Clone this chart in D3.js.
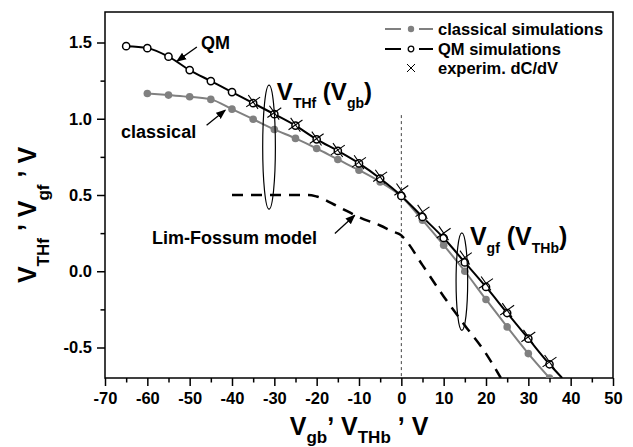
<!DOCTYPE html>
<html lang="en">
<head>
<meta charset="UTF-8"/>
<title>Threshold voltages vs back gate voltage</title>
<script src="https://d3js.org/d3.v7.min.js"></script>
<style type="text/css">
  body { margin: 0; background: #fff; }
  svg text { font-family: "Liberation Sans", Arial, sans-serif; font-weight: bold; fill: #000; }
  .tick line { stroke: #000; stroke-width: 1.5; }
  .clsLine { fill: none; stroke: #808080; stroke-width: 2; }
  .qmLine { fill: none; stroke: #000; stroke-width: 2; }
  .lfLine { fill: none; stroke: #000; stroke-width: 2.5; stroke-dasharray: 11, 8; }
  .zeroLine { stroke: #444; stroke-width: 1; stroke-dasharray: 3, 3; }
  .note { fill: none; stroke: #000; stroke-width: 1.2; }
</style>
</head>
<body>
<script>

// ---- data ----
var qmX  = [-65, -60, -55, -50, -45, -40, -35, -30, -25, -20, -15, -10, -5, 0, 5, 10, 15, 20, 25, 30, 35];
var qmY  = [1.476, 1.463, 1.407, 1.319, 1.247, 1.175, 1.102, 1.030, 0.955, 0.865, 0.789, 0.707, 0.608, 0.494, 0.356, 0.218, 0.058, -0.103, -0.274, -0.442, -0.610];
var qmLineEnd = [38, -0.70];   // the QM curve runs on to the bottom axis

var clsX = [-60, -55, -50, -45, -40, -35, -30, -25, -20, -15, -10, -5, 0, 5, 10, 15, 20, 25, 30, 35];
var clsY = [1.166, 1.155, 1.144, 1.127, 1.063, 0.997, 0.930, 0.871, 0.805, 0.733, 0.663, 0.586, 0.490, 0.335, 0.171, 0.000, -0.185, -0.365, -0.540, -0.700];

var expX = [-35, -30, -25, -20, -15, -10, -5, 0, 5, 10, 15, 20, 25, 30, 35];
var expY = [1.110, 1.040, 0.960, 0.870, 0.795, 0.715, 0.620, 0.530, 0.390, 0.250, 0.090, -0.080, -0.255, -0.430, -0.595];

var lfX = [-40, -30, -22, -20, -15, -10, -5, -2, 0, 1, 5, 10, 15, 20, 23.5];
var lfY = [0.50, 0.50, 0.50, 0.49, 0.425, 0.355, 0.30, 0.26, 0.235, 0.205, 0.04, -0.165, -0.355, -0.54, -0.70];

var xTicks = [-70, -60, -50, -40, -30, -20, -10, 0, 10, 20, 30, 40, 50];
var xMinor = [-65, -55, -45, -35, -25, -15, -5, 5, 15, 25, 35, 45];
var yTicks = [-0.5, 0.0, 0.5, 1.0, 1.5];
var yMinor = [-0.25, 0.25, 0.75, 1.25];

var legendItems = ["classical simulations", "QM simulations", "experim. dC/dV"];

function pairs(xs, ys) { return xs.map(function(v, i) { return [v, ys[i]]; }); }

// ---- layout ----
var margin = {top: 12, right: 20, bottom: 69, left: 105},
    width = 633 - margin.left - margin.right,
    height = 447 - margin.top - margin.bottom;

var x = d3.scaleLinear().domain([-70, 50]).range([0, width]);
var y = d3.scaleLinear().domain([-0.7, 1.7]).range([height, 0]);

var svg = d3.select("body").append("svg")
    .attr("width", 633)
    .attr("height", 447);

var defs = svg.append("defs");
defs.append("clipPath").attr("id", "plotClip")
  .append("rect").attr("width", width).attr("height", height);
defs.append("marker")
    .attr("id", "arrow")
    .attr("viewBox", "0 0 10 10")
    .attr("refX", 9).attr("refY", 5)
    .attr("markerWidth", 10).attr("markerHeight", 10)
    .attr("markerUnits", "userSpaceOnUse")
    .attr("orient", "auto")
  .append("path").attr("d", "M0,1 L10,5 L0,9 Z").attr("fill", "#000");

var g = svg.append("g")
    .attr("transform", "translate(" + margin.left + "," + margin.top + ")");

// axes (plain hyphen for the minus sign, as in the figure)
g.append("g")
    .attr("transform", "translate(0," + height + ")")
    .call(d3.axisBottom(x).tickValues(xTicks).tickSize(8).tickPadding(6)
      .tickFormat(function(d) { return String(d); }));
g.append("g")
    .attr("transform", "translate(0," + height + ")")
    .call(d3.axisBottom(x).tickValues(xMinor).tickSize(4.5).tickFormat(""));
g.append("g")
    .call(d3.axisLeft(y).tickValues(yTicks).tickSize(8).tickPadding(5)
      .tickFormat(function(d) { return d.toFixed(1); }));
g.append("g")
    .call(d3.axisLeft(y).tickValues(yMinor).tickSize(4.5).tickFormat(""));
g.selectAll(".domain").remove();
g.selectAll(".tick text")
    .style("font-family", "'Liberation Sans', Arial, sans-serif")
    .style("font-weight", "bold")
    .style("font-size", "16.5px");

g.append("rect")
    .attr("width", width).attr("height", height)
    .attr("fill", "none").attr("stroke", "#000").attr("stroke-width", 1.5);

// dotted zero line
g.append("line")
    .attr("class", "zeroLine")
    .attr("x1", x(0)).attr("x2", x(0))
    .attr("y1", y(1.024)).attr("y2", y(-0.7));

var plot = g.append("g").attr("clip-path", "url(#plotClip)");

var line = d3.line()
    .x(function(d) { return x(d[0]); })
    .y(function(d) { return y(d[1]); })
    .curve(d3.curveMonotoneX);

var lfData = pairs(lfX, lfY);
var clsData = pairs(clsX, clsY);
var qmData = pairs(qmX, qmY);
var expData = pairs(expX, expY);

plot.append("path").datum(lfData).attr("class", "lfLine").attr("d", line);
plot.append("path").datum(clsData).attr("class", "clsLine").attr("d", line);
plot.append("path").datum(qmData.concat([qmLineEnd])).attr("class", "qmLine").attr("d", line);

plot.selectAll(".clsDot").data(clsData).enter().append("circle")
    .attr("cx", function(d) { return x(d[0]); })
    .attr("cy", function(d) { return y(d[1]); })
    .attr("r", 3.8).attr("fill", "#808080");

var crossPath = function(s) {
  return "M" + (-s) + "," + (-s) + "L" + s + "," + s + "M" + (-s) + "," + s + "L" + s + "," + (-s);
};

plot.selectAll(".qmDot").data(qmData).enter().append("circle")
    .attr("cx", function(d) { return x(d[0]); })
    .attr("cy", function(d) { return y(d[1]); })
    .attr("r", 3.6).attr("fill", "#fff").attr("stroke", "#000").attr("stroke-width", 1.5);

plot.selectAll(".expMark").data(expData).enter().append("path")
    .attr("transform", function(d) { return "translate(" + x(d[0]) + "," + y(d[1]) + ") rotate(10)"; })
    .attr("d", crossPath(6))
    .attr("fill", "none").attr("stroke", "#000").attr("stroke-width", 1.1);

// ---- annotations ----
function ellipse(cx, cy, rx, ry) {
  g.append("ellipse")
      .attr("class", "note")
      .attr("cx", x(cx)).attr("cy", y(cy))
      .attr("rx", x(cx + rx) - x(cx)).attr("ry", y(cy) - y(cy + ry));
}
ellipse(-31.25, 0.814, 1.5, 0.407);
ellipse(14.3, -0.068, 1.37, 0.32);

function arrow(x1, y1, x2, y2) {
  g.append("line")
      .attr("x1", x(x1)).attr("y1", y(y1))
      .attr("x2", x(x2)).attr("y2", y(y2))
      .attr("stroke", "#000").attr("stroke-width", 1.3)
      .attr("marker-end", "url(#arrow)");
}
arrow(-48.3, 1.47, -53.0, 1.378);
arrow(-46.0, 0.958, -41.6, 1.056);
arrow(-15.7, 0.247, -11.0, 0.367);

function label(tx, ty, str) {
  g.append("text")
      .attr("x", x(tx)).attr("y", y(ty))
      .attr("font-size", 18)
      .text(str);
}
label(-47.3, 1.457, "QM");
label(-66.2, 0.873, "classical");
label(-58.9, 0.177, "Lim-Fossum model");

// text with subscripts: kind 0 = normal, 1 = subscript, 2 = raised comma
function subLabel(sel, parts, big, small, shift) {
  var cur = 0;
  parts.forEach(function(p) {
    var target = p[1] === 1 ? shift : (p[1] === 2 ? -0.55 * big : 0);
    sel.append("tspan")
        .attr("dy", target - cur)
        .attr("font-size", p[1] === 1 ? small : big)
        .text(p[0]);
    cur = target;
  });
}

var l1 = g.append("text").attr("x", x(-29.4)).attr("y", y(1.122));
subLabel(l1, [["V", 0], ["THf", 1], [" (V", 0], ["gb", 1], [")", 0]], 24, 14, 8);
var l2 = g.append("text").attr("x", x(16.2)).attr("y", y(0.171));
subLabel(l2, [["V", 0], ["gf", 1], [" (V", 0], ["THb", 1], [")", 0]], 25, 14, 8);

// axis titles
var xt = svg.append("text")
    .attr("x", margin.left + width / 2).attr("y", 435)
    .attr("text-anchor", "middle");
subLabel(xt, [["V", 0], ["gb", 1], [",", 2], [" V", 0], ["THb", 1], [" ", 0], [",", 2], [" V", 0]], 25, 17, 8);

var yt = svg.append("text")
    .attr("transform", "translate(36,215) rotate(-90)")
    .attr("text-anchor", "middle");
subLabel(yt, [["V", 0], ["THf", 1], [" ", 0], [",", 2], [" V", 0], ["gf", 1], [" ", 0], [",", 2], [" V", 0]], 25, 17, 13);

// ---- legend ----
var legend = svg.append("g").attr("transform", "translate(385,29)");
legendItems.forEach(function(name, i) {
  var row = legend.append("g").attr("transform", "translate(0," + [0, 20, 39][i] + ")");
  if (i < 2) {
    var col = i === 0 ? "#808080" : "#000";
    row.append("line").attr("x1", 0).attr("x2", 16).attr("stroke", col).attr("stroke-width", 2);
    row.append("line").attr("x1", 34).attr("x2", 48).attr("stroke", col).attr("stroke-width", 2);
    if (i === 0) row.append("circle").attr("cx", 26).attr("r", 3.2).attr("fill", col);
    else row.append("circle").attr("cx", 26).attr("r", 2.8).attr("fill", "#fff").attr("stroke", "#000").attr("stroke-width", 1.3);
  } else {
    row.append("path").attr("transform", "translate(26,0)").attr("d", crossPath(4))
        .attr("fill", "none").attr("stroke", "#000").attr("stroke-width", 1);
  }
  row.append("text").attr("x", 53).attr("dy", "0.36em").attr("font-size", 16.5).text(name);
});

</script>
</body>
</html>
